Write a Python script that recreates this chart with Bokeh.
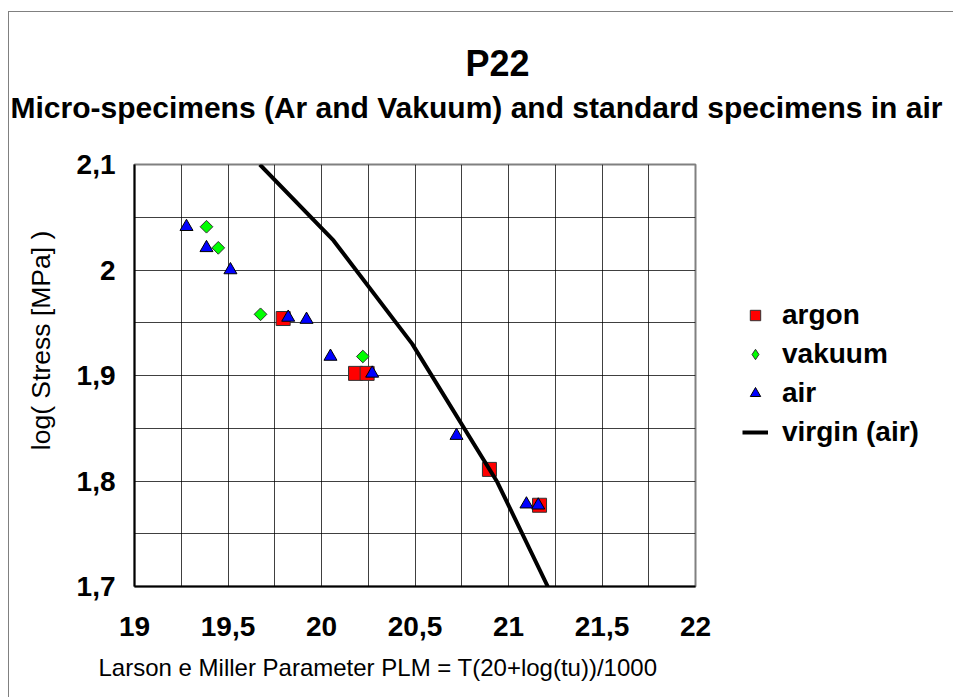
import math
from bokeh.plotting import figure
from bokeh.layouts import column
from bokeh.models import (Range1d, FixedTicker, CustomJSTickFormatter, Label,
                          Legend, LegendItem)
from bokeh.embed import file_html
from bokeh.resources import INLINE

# ---- data ----
argon_x = [19.795, 20.182, 20.244, 20.898, 21.166]
argon_y = [1.954, 1.902, 1.902, 1.811, 1.777]

vakuum_x = [19.385, 19.448, 19.674, 20.221]
vakuum_y = [2.041, 2.021, 1.958, 1.918]

air_x = [19.278, 19.385, 19.513, 19.822, 19.920, 20.048, 20.271, 20.722, 21.096, 21.159]
air_y = [2.041, 2.021, 2.000, 1.955, 1.953, 1.918, 1.902, 1.843, 1.778, 1.777]

virgin_x = [19.67, 20.064, 20.485, 20.94, 21.21]
virgin_y = [2.100, 2.028, 1.930, 1.799, 1.700]

x_ticks = [19, 19.5, 20, 20.5, 21, 21.5, 22]
x_minor = [19.25, 19.75, 20.25, 20.75, 21.25, 21.75]
y_ticks = [1.7, 1.8, 1.9, 2.0, 2.1]
y_minor = [1.75, 1.85, 1.95, 2.05]

title_text = "P22"
subtitle_text = "Micro-specimens (Ar and Vakuum) and standard specimens in air"
x_title = "Larson e Miller Parameter  PLM = T(20+log(tu))/1000"
y_title = "log( Stress [MPa] )"
legend_labels = ["argon", "vakuum", "air", "virgin (air)"]

FONT = "Liberation Sans"
W, H = 954, 698

# ---------------- main chart ----------------
# canvas origin sits at window (9, 12) because of the chart-area border
p = figure(width=945, height=686, x_range=Range1d(19, 22), y_range=Range1d(1.7, 2.1),
           output_backend="svg", toolbar_location=None, title=None,
           min_border_left=125, min_border_right=259, min_border_top=152,
           min_border_bottom=112)
p.styles = {"margin-left": "8px", "margin-top": "11px",
            "border-left": "1px solid #808080", "border-top": "1px solid #808080"}

p.background_fill_color = "white"
p.border_fill_color = "white"
p.outline_line_color = "#808080"
p.outline_line_width = 2

p.xaxis.ticker = FixedTicker(ticks=x_ticks, minor_ticks=x_minor)
p.yaxis.ticker = FixedTicker(ticks=y_ticks, minor_ticks=y_minor)
fmt = "return String(Math.round(tick*10)/10).replace('.', ',');"
p.xaxis.formatter = CustomJSTickFormatter(code=fmt)
p.yaxis.formatter = CustomJSTickFormatter(code=fmt)
for ax in (p.xaxis[0], p.yaxis[0]):
    ax.major_tick_in = 0
    ax.major_tick_out = 0
    ax.minor_tick_in = 0
    ax.minor_tick_out = 0
    ax.axis_line_color = "black"
    ax.axis_line_width = 2
    ax.major_label_text_font = FONT
    ax.major_label_text_font_style = "bold"
    ax.major_label_text_font_size = "28px"
    ax.major_label_text_color = "black"
p.xaxis.major_label_standoff = 30
p.yaxis.major_label_standoff = 19

for g in (p.xgrid[0], p.ygrid[0]):
    g.grid_line_color = "black"
    g.grid_line_alpha = 0.75
    g.grid_line_width = 1
    g.minor_grid_line_color = "black"
    g.minor_grid_line_alpha = 0.75
    g.minor_grid_line_width = 1

ARGON = dict(marker="square", fill_color="#FF0000", line_color="#333333", line_width=1)
VAK = dict(marker="square", angle=math.pi / 4, fill_color="#00FF00",
           line_color="#333333", line_width=1)
VAK_KEY = dict(marker="diamond", fill_color="#00FF00", line_color="#333333", line_width=1)
AIR = dict(marker="triangle", fill_color="#0000FF", line_color="#000000", line_width=1)
VIRG = dict(line_color="black", line_width=4)

p.scatter(argon_x, argon_y, size=14, **ARGON)
p.scatter(vakuum_x, vakuum_y, size=9, **VAK)
p.scatter(air_x, air_y, size=13, **AIR)
p.line(virgin_x, virgin_y, **VIRG)

# ---------------- transparent overlay with titles and legend ----------------
o = figure(width=W, height=H, x_range=Range1d(0, 1), y_range=Range1d(0, 1),
           output_backend="svg", toolbar_location=None, title=None,
           x_axis_location=None, y_axis_location=None, min_border=0)
o.outline_line_color = None
o.background_fill_alpha = 0
o.border_fill_alpha = 0
o.grid.visible = False
o.styles = {"margin-top": "-697px"}

# do not let the layout align the overlay's frame with the chart's frame
for fig in (p, o):
    try:
        fig.frame_align = False
    except Exception:
        pass

# legend key renderers: they carry the series' first values, which lie far
# outside the overlay's 0..1 ranges, so only their legend samples are seen
k_argon = o.scatter(argon_x[:1], argon_y[:1], size=14, **ARGON)
k_vak = o.scatter(vakuum_x[:1], vakuum_y[:1], size=12, **VAK_KEY)
k_air = o.scatter(air_x[:1], air_y[:1], size=13, **AIR)
k_virg = o.line(virgin_x[:2], virgin_y[:2], **VIRG)

legend = Legend(items=[LegendItem(label=legend_labels[0], renderers=[k_argon]),
                       LegendItem(label=legend_labels[1], renderers=[k_vak]),
                       LegendItem(label=legend_labels[2], renderers=[k_air]),
                       LegendItem(label=legend_labels[3], renderers=[k_virg])],
                location=(742, H - 448), orientation="vertical")
legend.padding = 0
legend.margin = 0
legend.border_line_color = None
legend.background_fill_alpha = 0
legend.glyph_width = 26
legend.glyph_height = 32
legend.label_height = 32
legend.spacing = 7
legend.label_standoff = 14
legend.label_text_font = FONT
legend.label_text_font_style = "bold"
legend.label_text_font_size = "28px"
legend.label_text_color = "black"
o.add_layout(legend)


def lab(text, wx, wy, size, bold=False, align="left", angle=0.0):
    # window pixel position -> screen units of the overlay frame (y up)
    return Label(x=wx, y=H - wy, x_units="screen", y_units="screen",
                 text=text, text_font=FONT, text_font_size=size,
                 text_font_style="bold" if bold else "normal",
                 text_align=align, text_baseline="middle", angle=angle,
                 text_color="black")


o.add_layout(lab(title_text, 497, 63, "36px", bold=True, align="center"))
o.add_layout(lab(subtitle_text, 10, 107, "30px", bold=True, align="left"))
o.add_layout(lab(y_title, 40, 340, "26.5px", align="center", angle=math.pi / 2))
o.add_layout(lab(x_title, 98, 667, "24px", align="left"))

layout = column(p, o)
open("out.html", "w").write(file_html(layout, INLINE))
